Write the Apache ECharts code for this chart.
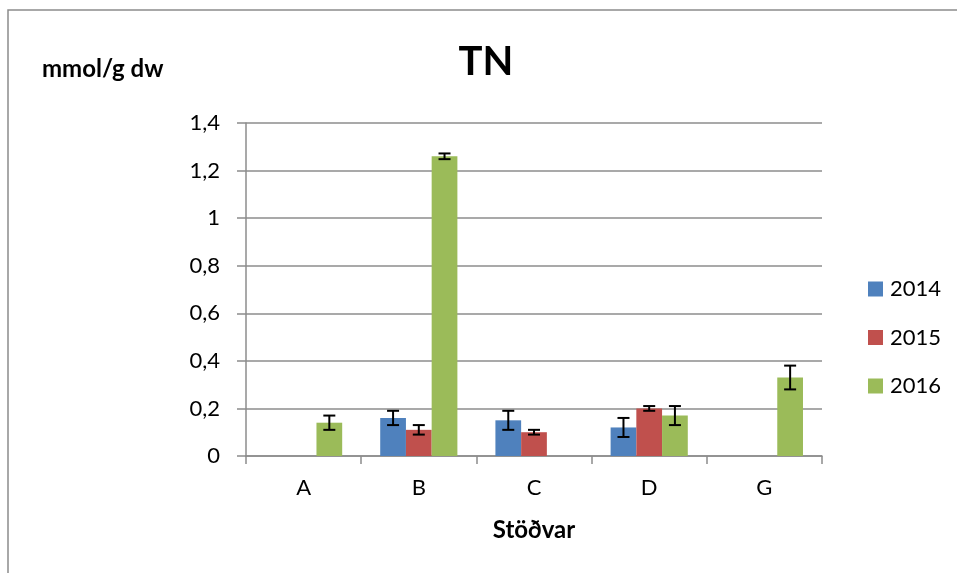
<!DOCTYPE html>
<html>
<head>
<meta charset="utf-8">
<script src="https://cdn.jsdelivr.net/npm/echarts@6/dist/echarts.min.js"></script>
<style>
  html, body { margin: 0; padding: 0; background: #fff; }
  #chart { width: 957px; height: 573px; }
</style>
</head>
<body>
<div id="chart"></div>
<script>
// TN per station, mean with error (± half-range)
const stations = ['A', 'B', 'C', 'D', 'G'];
const years = ['2014', '2015', '2016'];
const tn2014 = [null, 0.16, 0.15, 0.12, null];
const tn2015 = [null, 0.11, 0.10, 0.20, null];
const tn2016 = [0.14, 1.26, null, 0.17, 0.33];
const err2014 = [null, 0.03, 0.04, 0.04, null];
const err2015 = [null, 0.02, 0.01, 0.01, null];
const err2016 = [0.03, 0.012, null, 0.04, 0.05];
const yTicks = [0, 0.2, 0.4, 0.6, 0.8, 1, 1.2, 1.4];

const colors = ['#4F81BD', '#C0504D', '#9BBB59'];
const font = 'Lato, "Open Sans", sans-serif';
const catGap = 0.33;

const means = [tn2014, tn2015, tn2016];
const errs = [err2014, err2015, err2016];

function errSeries(k) {
  const data = stations.map((s, i) =>
    means[k][i] == null ? [i, null, null] : [i, means[k][i] - errs[k][i], means[k][i] + errs[k][i]]
  ).filter(d => d[1] != null);
  return {
    type: 'custom',
    name: years[k] + ' err',
    data: data,
    z: 5,
    silent: true,
    renderItem: function (params, api) {
      const band = api.size([1, 0])[0];
      const bw = band * (1 - catGap) / 3;
      const cx = api.coord([api.value(0), 0])[0] + (k - 1) * bw;
      const lo = api.coord([api.value(0), api.value(1)])[1];
      const hi = api.coord([api.value(0), api.value(2)])[1];
      const cap = 6;
      const st = { stroke: '#000', lineWidth: 2 };
      return {
        type: 'group',
        children: [
          { type: 'line', shape: { x1: cx, y1: lo, x2: cx, y2: hi }, style: st },
          { type: 'line', shape: { x1: cx - cap, y1: lo, x2: cx + cap, y2: lo }, style: st },
          { type: 'line', shape: { x1: cx - cap, y1: hi, x2: cx + cap, y2: hi }, style: st }
        ]
      };
    }
  };
}

const chart = echarts.init(document.getElementById('chart'));
chart.setOption({
  animation: false,
  color: colors,
  textStyle: { fontFamily: font },
  title: {
    text: 'TN',
    left: 481, top: 37,
    textAlign: 'center',
    textStyle: { fontSize: 40, fontWeight: 'bold', color: '#000', fontFamily: font }
  },
  graphic: [
    {
      type: 'rect',
      shape: { x: 8, y: 10, width: 1000, height: 600 },
      style: { fill: 'none', stroke: '#8c8c8c', lineWidth: 1.5 },
      silent: true
    },
    {
      type: 'text',
      left: 42, top: 57,
      style: { text: 'mmol/g dw', font: 'bold 24px ' + font, fill: '#000' }
    }
  ],
  legend: {
    data: years,
    orient: 'vertical',
    left: 863, top: 273,
    itemWidth: 15, itemHeight: 15,
    itemGap: 26.5,
    icon: 'rect',
    textStyle: { fontSize: 22, color: '#000', fontFamily: font, padding: [0, 0, 0, 2] }
  },
  grid: { left: 246, right: 135, top: 123, bottom: 117 },
  xAxis: {
    type: 'category',
    data: stations,
    name: 'Stöðvar',
    nameLocation: 'middle',
    nameGap: 62,
    nameTextStyle: { fontSize: 24, fontWeight: 'bold', color: '#000', fontFamily: font },
    axisLine: { lineStyle: { color: '#8c8c8c', width: 1.5 } },
    axisTick: { show: true, length: 8, alignWithLabel: false, lineStyle: { color: '#8c8c8c', width: 1.5 } },
    axisLabel: { fontSize: 22, color: '#000', margin: 21 }
  },
  yAxis: {
    type: 'value',
    min: 0, max: 1.4, interval: 0.2,
    axisLine: { show: true, lineStyle: { color: '#8c8c8c', width: 1.5 } },
    axisTick: { show: true, length: 9, lineStyle: { color: '#8c8c8c', width: 1.5 } },
    splitLine: { lineStyle: { color: '#8c8c8c', width: 1.5 } },
    axisLabel: {
      fontSize: 22, color: '#000', margin: 26,
      formatter: v => {
        const t = yTicks.find(x => Math.abs(x - v) < 1e-9);
        return String(t != null ? t : v).replace('.', ',');
      }
    }
  },
  series: [
    { type: 'bar', name: years[0], data: tn2014, barGap: '0%', barCategoryGap: (catGap * 100) + '%' },
    { type: 'bar', name: years[1], data: tn2015, barGap: '0%', barCategoryGap: (catGap * 100) + '%' },
    { type: 'bar', name: years[2], data: tn2016, barGap: '0%', barCategoryGap: (catGap * 100) + '%' },
    errSeries(0), errSeries(1), errSeries(2)
  ]
});
</script>
</body>
</html>
